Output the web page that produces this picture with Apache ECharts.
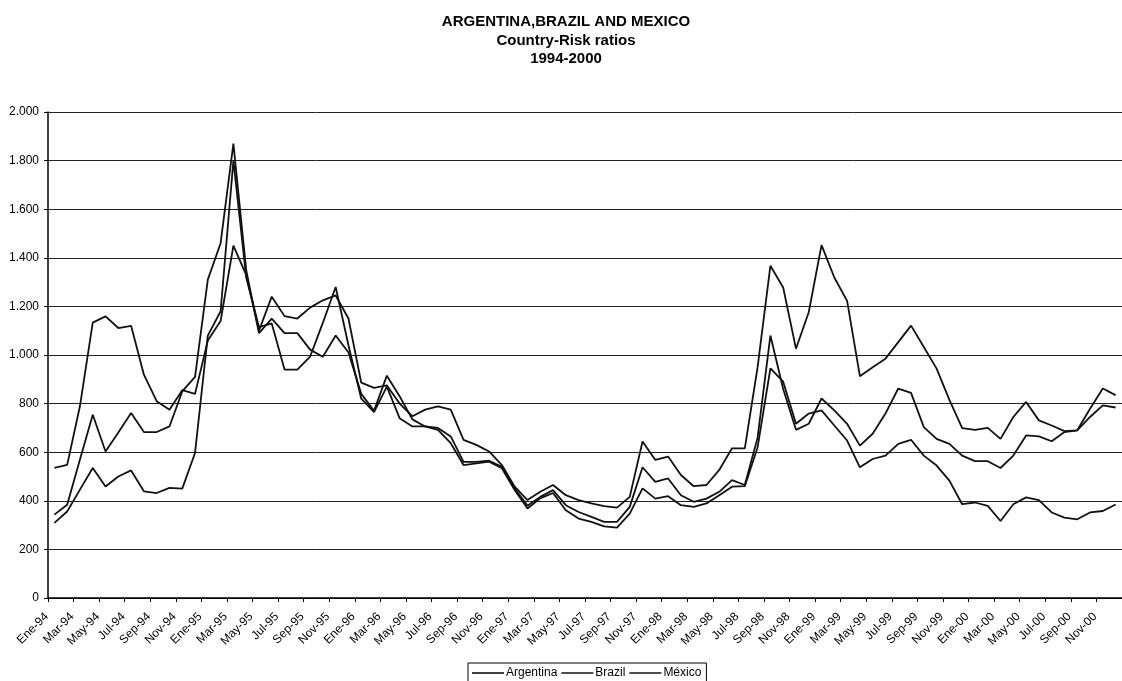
<!DOCTYPE html>
<html>
<head>
<meta charset="utf-8">
<title>Argentina, Brazil and Mexico - Country-Risk ratios 1994-2000</title>
<script src="https://cdn.jsdelivr.net/npm/echarts@6/dist/echarts.min.js"></script>
<style>
  html, body { margin: 0; padding: 0; background: #fff; }
  #chart { width: 1122px; height: 681px; }
</style>
</head>
<body>
<div id="chart"></div>
<script>
// Monthly country-risk spreads (basis points), Jan 1994 - Dec 2000
const monthNames = ['Ene', 'Feb', 'Mar', 'Abr', 'May', 'Jun', 'Jul', 'Ago', 'Sep', 'Oct', 'Nov', 'Dic'];
const years = ['94', '95', '96', '97', '98', '99', '00'];

const argentina = [
  343, 384, 570, 754, 603, 681, 761, 683, 683, 706, 850, 910,
  1310, 1460, 1870, 1350, 1090, 1150, 1090, 1090, 1022, 993, 1080, 1010,
  840, 770, 915, 830, 735, 706, 700, 665, 560, 560, 565, 540,
  450, 380, 416, 444, 382, 354, 334, 313, 313, 375, 538, 478,
  492, 423, 396, 409, 437, 485, 465, 660, 1080, 860, 692, 717,
  821, 772, 717, 627, 676, 759, 862, 844, 703, 655, 634, 586,
  563, 563, 535, 586, 669, 665, 645, 683, 690, 745, 793, 784
];

const brazil = [
  535, 548, 790, 1133, 1159, 1111, 1120, 919, 810, 775, 855, 840,
  1060, 1140, 1450, 1330, 1100, 1240, 1160, 1150, 1195, 1225, 1245, 1150,
  886, 865, 875, 800, 748, 775, 789, 775, 651, 630, 603, 547,
  458, 403, 437, 465, 423, 403, 389, 378, 372, 416, 644, 568,
  582, 506, 460, 465, 527, 616, 616, 950, 1367, 1278, 1026, 1176,
  1452, 1319, 1223, 913, 950, 985, 1053, 1121, 1033, 944, 815, 699,
  692, 700, 655, 745, 807, 731, 710, 687, 690, 779, 862, 835
];

const mexico = [
  309, 356, 446, 535, 459, 500, 525, 439, 432, 453, 450, 597,
  1080, 1180, 1800, 1320, 1115, 1130, 940, 940, 993, 1133, 1280, 1040,
  820, 765, 870, 740, 706, 706, 692, 637, 547, 554, 561, 534,
  444, 368, 410, 432, 361, 327, 313, 295, 290, 347, 451, 409,
  419, 382, 375, 389, 423, 458, 460, 620, 945, 890, 717, 759,
  772, 710, 648, 538, 572, 586, 634, 651, 586, 545, 483, 386,
  393, 379, 317, 386, 414, 403, 352, 331, 324, 352, 358, 385
];

// Category labels such as "Ene-94", "Feb-94", ...
const months = [];
years.forEach(y => monthNames.forEach(m => months.push(m + '-' + y)));

const FONT = '"Liberation Sans", Arial, Helvetica, sans-serif';

// Thousands separator as a dot: 2000 -> "2.000"
function fmtThousands(v) {
  return String(v).replace(/\B(?=(\d{3})+(?!\d))/g, '.');
}

const lineStyle = { color: '#111', width: 1.8 };

const chart = echarts.init(document.getElementById('chart'), null, { renderer: 'canvas' });

chart.setOption({
  animation: false,
  backgroundColor: '#fff',
  textStyle: { fontFamily: FONT, color: '#000' },
  title: {
    text: 'ARGENTINA,BRAZIL AND MEXICO\nCountry-Risk ratios\n1994-2000',
    left: 566,
    top: 13,
    padding: 0,
    textAlign: 'center',
    textStyle: {
      fontFamily: FONT,
      fontSize: 15,
      fontWeight: 'bold',
      color: '#000',
      lineHeight: 18.5
    }
  },
  legend: {
    left: 468,
    top: 663,
    padding: [4, 5, 4, 4],
    icon: 'rect',
    itemWidth: 32,
    itemHeight: 1.6,
    itemGap: 4,
    borderColor: '#000',
    borderWidth: 1,
    borderRadius: 0,
    itemStyle: { color: '#111', borderWidth: 0 },
    textStyle: { fontFamily: FONT, fontSize: 12, color: '#000', padding: [0, 0, 0, -3] },
    data: ['Argentina', 'Brazil', 'México']
  },
  grid: {
    left: 48,
    top: 112,
    width: 1083,
    height: 486,
    containLabel: false
  },
  xAxis: {
    type: 'category',
    data: months,
    boundaryGap: true,
    axisLine: { show: true, lineStyle: { color: '#000', width: 1.5 } },
    axisTick: { show: true, interval: 1, length: 4, lineStyle: { color: '#000' } },
    axisLabel: {
      interval: 1,
      rotate: 45,
      margin: 9,
      padding: [0, 11, 0, 0],
      fontFamily: FONT,
      fontSize: 12,
      color: '#000'
    },
    splitLine: { show: false }
  },
  yAxis: {
    type: 'value',
    min: 0,
    max: 2000,
    interval: 200,
    axisLine: { show: true, lineStyle: { color: '#000', width: 1.5 } },
    axisTick: { show: true, length: 4, lineStyle: { color: '#000' } },
    axisLabel: {
      margin: 9,
      fontFamily: FONT,
      fontSize: 12,
      color: '#000',
      formatter: fmtThousands
    },
    splitLine: { show: true, lineStyle: { color: '#222', width: 1 } }
  },
  series: [
    { name: 'Argentina', type: 'line', data: argentina, symbol: 'none', lineStyle: lineStyle, itemStyle: { color: '#111' }, clip: true },
    { name: 'Brazil', type: 'line', data: brazil, symbol: 'none', lineStyle: lineStyle, itemStyle: { color: '#111' }, clip: true },
    { name: 'México', type: 'line', data: mexico, symbol: 'none', lineStyle: lineStyle, itemStyle: { color: '#111' }, clip: true }
  ]
});
</script>
</body>
</html>
